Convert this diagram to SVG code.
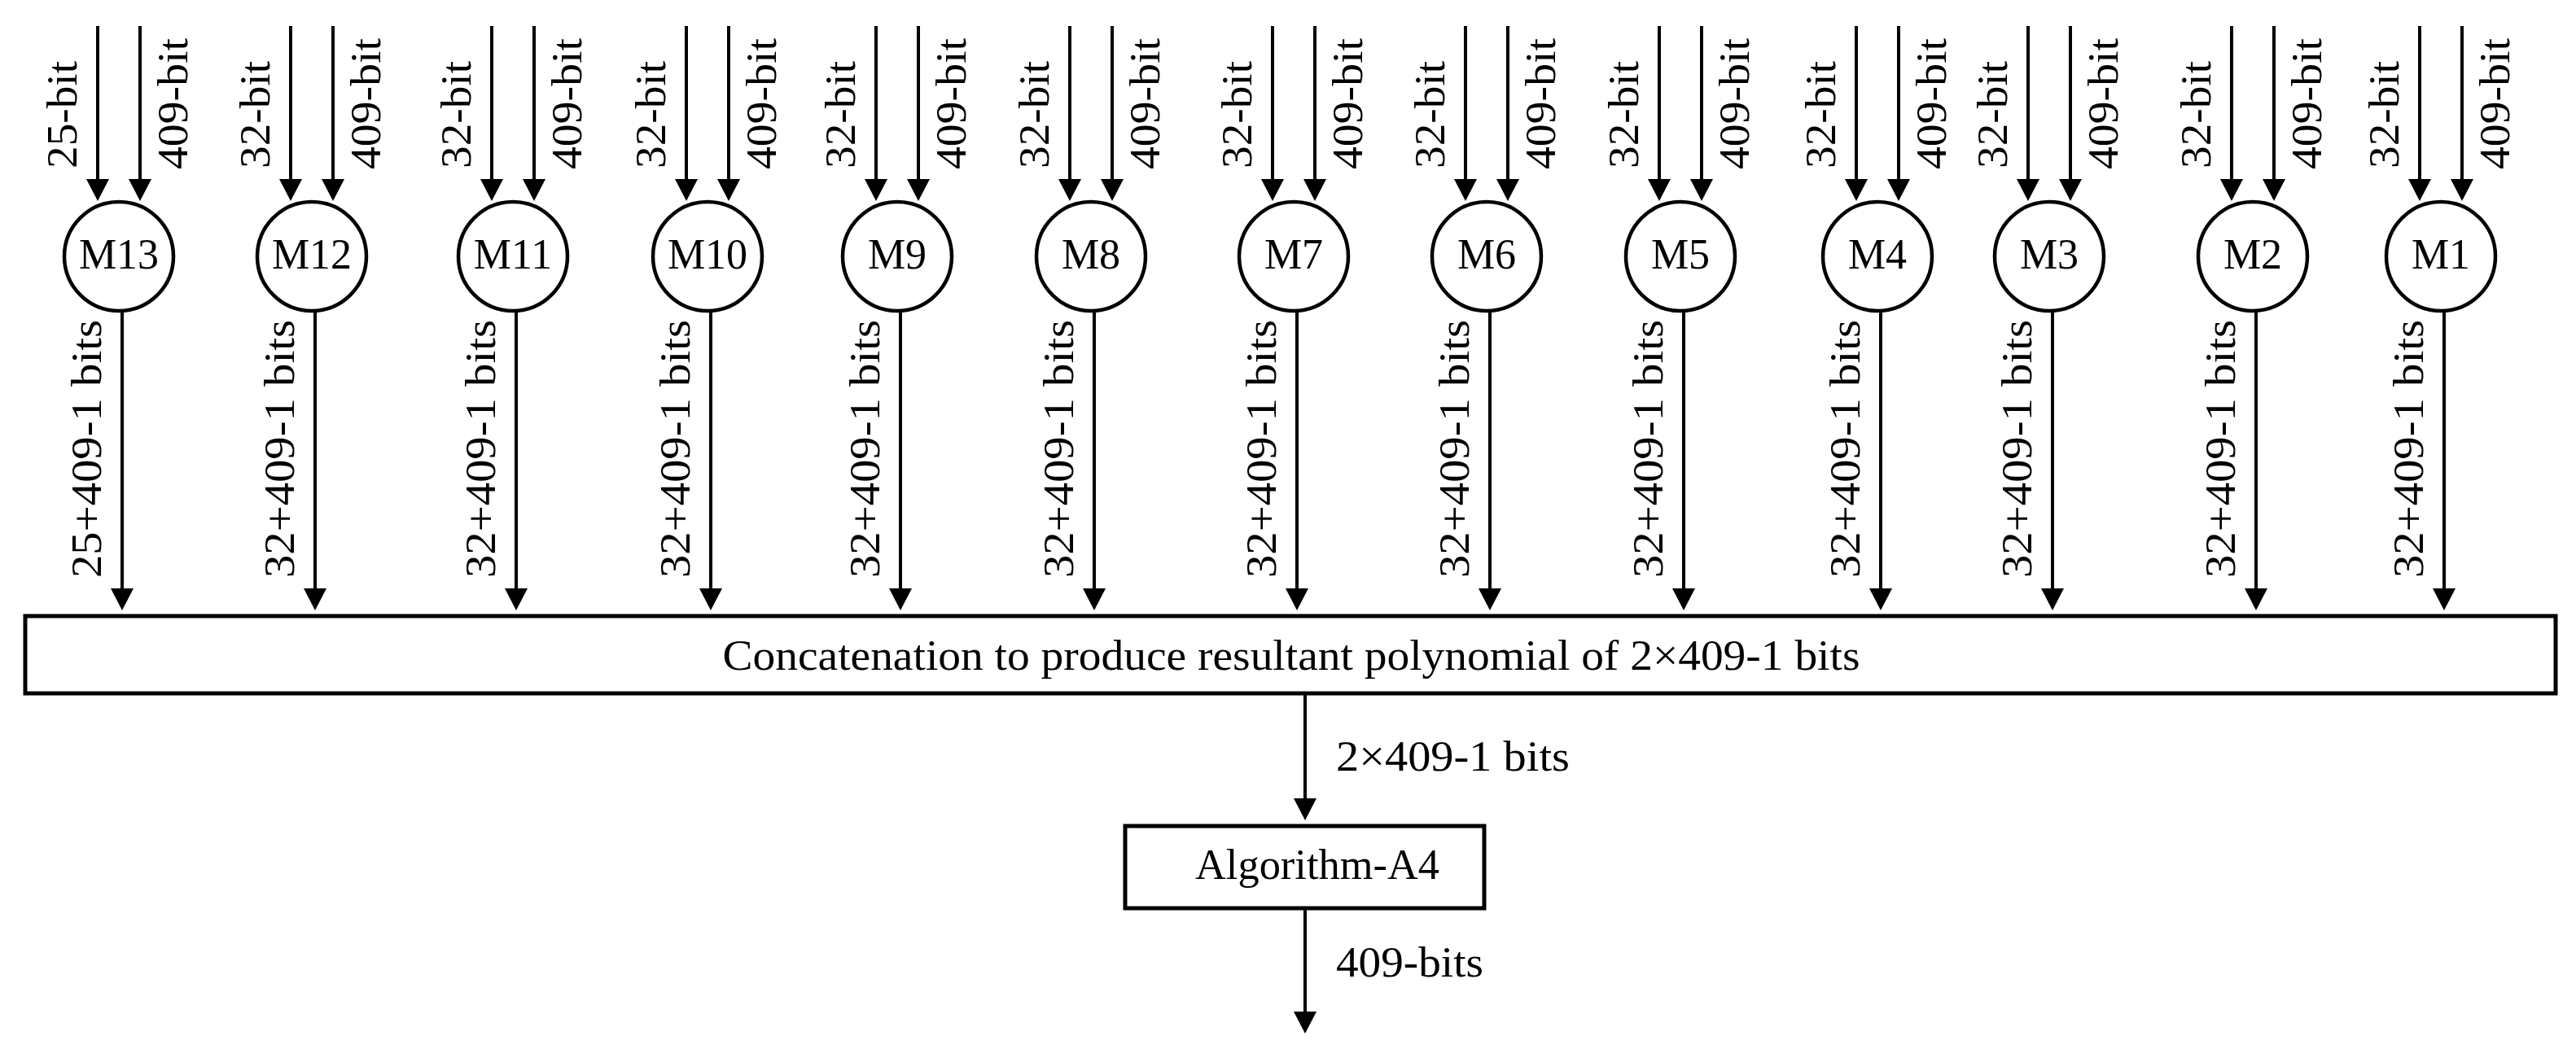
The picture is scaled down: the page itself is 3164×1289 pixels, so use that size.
<svg xmlns="http://www.w3.org/2000/svg" width="3164" height="1289" viewBox="0 0 3164 1289">
<style>
text{font-family:"Liberation Serif","Times New Roman",serif;font-size:52px;fill:#000}
.m{text-anchor:middle}
.node{fill:#fff;stroke:#000;stroke-width:4.5}
.box{fill:#fff;stroke:#000;stroke-width:5}
.ln{stroke:#000;stroke-width:4;fill:none;marker-end:url(#ah)}
</style>
<defs>
<marker id="ah" markerUnits="userSpaceOnUse" markerWidth="30" markerHeight="30" refX="2" refY="14" orient="auto">
<path d="M0,0 L27,14 L0,28 z" fill="#000"/>
</marker>
</defs>
<rect width="3164" height="1289" fill="#fff"/>

<g id="connectors">
<!-- M13 c=146 -->
<line class="ln" x1="120" y1="32" x2="120" y2="222"/><line class="ln" x1="172" y1="32" x2="172" y2="222"/><line class="ln" x1="150" y1="383" x2="150" y2="725"/>
<text transform="translate(94,207) rotate(-90)" textLength="132" lengthAdjust="spacingAndGlyphs">25-bit</text>
<text transform="translate(230,208) rotate(-90)" textLength="161" lengthAdjust="spacingAndGlyphs">409-bit</text>
<text transform="translate(124,710) rotate(-90)" textLength="317" lengthAdjust="spacingAndGlyphs">25+409-1 bits</text>
<!-- M12 c=383 -->
<line class="ln" x1="357" y1="32" x2="357" y2="222"/><line class="ln" x1="409" y1="32" x2="409" y2="222"/><line class="ln" x1="387" y1="383" x2="387" y2="725"/>
<text transform="translate(331,207) rotate(-90)" textLength="132" lengthAdjust="spacingAndGlyphs">32-bit</text>
<text transform="translate(467,208) rotate(-90)" textLength="161" lengthAdjust="spacingAndGlyphs">409-bit</text>
<text transform="translate(361,710) rotate(-90)" textLength="317" lengthAdjust="spacingAndGlyphs">32+409-1 bits</text>
<!-- M11 c=630 -->
<line class="ln" x1="604" y1="32" x2="604" y2="222"/><line class="ln" x1="656" y1="32" x2="656" y2="222"/><line class="ln" x1="634" y1="383" x2="634" y2="725"/>
<text transform="translate(578,207) rotate(-90)" textLength="132" lengthAdjust="spacingAndGlyphs">32-bit</text>
<text transform="translate(714,208) rotate(-90)" textLength="161" lengthAdjust="spacingAndGlyphs">409-bit</text>
<text transform="translate(608,710) rotate(-90)" textLength="317" lengthAdjust="spacingAndGlyphs">32+409-1 bits</text>
<!-- M10 c=869 -->
<line class="ln" x1="843" y1="32" x2="843" y2="222"/><line class="ln" x1="895" y1="32" x2="895" y2="222"/><line class="ln" x1="873" y1="383" x2="873" y2="725"/>
<text transform="translate(817,207) rotate(-90)" textLength="132" lengthAdjust="spacingAndGlyphs">32-bit</text>
<text transform="translate(953,208) rotate(-90)" textLength="161" lengthAdjust="spacingAndGlyphs">409-bit</text>
<text transform="translate(847,710) rotate(-90)" textLength="317" lengthAdjust="spacingAndGlyphs">32+409-1 bits</text>
<!-- M9 c=1102 -->
<line class="ln" x1="1076" y1="32" x2="1076" y2="222"/><line class="ln" x1="1128" y1="32" x2="1128" y2="222"/><line class="ln" x1="1106" y1="383" x2="1106" y2="725"/>
<text transform="translate(1050,207) rotate(-90)" textLength="132" lengthAdjust="spacingAndGlyphs">32-bit</text>
<text transform="translate(1186,208) rotate(-90)" textLength="161" lengthAdjust="spacingAndGlyphs">409-bit</text>
<text transform="translate(1080,710) rotate(-90)" textLength="317" lengthAdjust="spacingAndGlyphs">32+409-1 bits</text>
<!-- M8 c=1340 -->
<line class="ln" x1="1314" y1="32" x2="1314" y2="222"/><line class="ln" x1="1366" y1="32" x2="1366" y2="222"/><line class="ln" x1="1344" y1="383" x2="1344" y2="725"/>
<text transform="translate(1288,207) rotate(-90)" textLength="132" lengthAdjust="spacingAndGlyphs">32-bit</text>
<text transform="translate(1424,208) rotate(-90)" textLength="161" lengthAdjust="spacingAndGlyphs">409-bit</text>
<text transform="translate(1318,710) rotate(-90)" textLength="317" lengthAdjust="spacingAndGlyphs">32+409-1 bits</text>
<!-- M7 c=1589 -->
<line class="ln" x1="1563" y1="32" x2="1563" y2="222"/><line class="ln" x1="1615" y1="32" x2="1615" y2="222"/><line class="ln" x1="1593" y1="383" x2="1593" y2="725"/>
<text transform="translate(1537,207) rotate(-90)" textLength="132" lengthAdjust="spacingAndGlyphs">32-bit</text>
<text transform="translate(1673,208) rotate(-90)" textLength="161" lengthAdjust="spacingAndGlyphs">409-bit</text>
<text transform="translate(1567,710) rotate(-90)" textLength="317" lengthAdjust="spacingAndGlyphs">32+409-1 bits</text>
<!-- M6 c=1826 -->
<line class="ln" x1="1800" y1="32" x2="1800" y2="222"/><line class="ln" x1="1852" y1="32" x2="1852" y2="222"/><line class="ln" x1="1830" y1="383" x2="1830" y2="725"/>
<text transform="translate(1774,207) rotate(-90)" textLength="132" lengthAdjust="spacingAndGlyphs">32-bit</text>
<text transform="translate(1910,208) rotate(-90)" textLength="161" lengthAdjust="spacingAndGlyphs">409-bit</text>
<text transform="translate(1804,710) rotate(-90)" textLength="317" lengthAdjust="spacingAndGlyphs">32+409-1 bits</text>
<!-- M5 c=2064 -->
<line class="ln" x1="2038" y1="32" x2="2038" y2="222"/><line class="ln" x1="2090" y1="32" x2="2090" y2="222"/><line class="ln" x1="2068" y1="383" x2="2068" y2="725"/>
<text transform="translate(2012,207) rotate(-90)" textLength="132" lengthAdjust="spacingAndGlyphs">32-bit</text>
<text transform="translate(2148,208) rotate(-90)" textLength="161" lengthAdjust="spacingAndGlyphs">409-bit</text>
<text transform="translate(2042,710) rotate(-90)" textLength="317" lengthAdjust="spacingAndGlyphs">32+409-1 bits</text>
<!-- M4 c=2306 -->
<line class="ln" x1="2280" y1="32" x2="2280" y2="222"/><line class="ln" x1="2332" y1="32" x2="2332" y2="222"/><line class="ln" x1="2310" y1="383" x2="2310" y2="725"/>
<text transform="translate(2254,207) rotate(-90)" textLength="132" lengthAdjust="spacingAndGlyphs">32-bit</text>
<text transform="translate(2390,208) rotate(-90)" textLength="161" lengthAdjust="spacingAndGlyphs">409-bit</text>
<text transform="translate(2284,710) rotate(-90)" textLength="317" lengthAdjust="spacingAndGlyphs">32+409-1 bits</text>
<!-- M3 c=2517 -->
<line class="ln" x1="2491" y1="32" x2="2491" y2="222"/><line class="ln" x1="2543" y1="32" x2="2543" y2="222"/><line class="ln" x1="2521" y1="383" x2="2521" y2="725"/>
<text transform="translate(2465,207) rotate(-90)" textLength="132" lengthAdjust="spacingAndGlyphs">32-bit</text>
<text transform="translate(2601,208) rotate(-90)" textLength="161" lengthAdjust="spacingAndGlyphs">409-bit</text>
<text transform="translate(2495,710) rotate(-90)" textLength="317" lengthAdjust="spacingAndGlyphs">32+409-1 bits</text>
<!-- M2 c=2767 -->
<line class="ln" x1="2741" y1="32" x2="2741" y2="222"/><line class="ln" x1="2793" y1="32" x2="2793" y2="222"/><line class="ln" x1="2771" y1="383" x2="2771" y2="725"/>
<text transform="translate(2715,207) rotate(-90)" textLength="132" lengthAdjust="spacingAndGlyphs">32-bit</text>
<text transform="translate(2851,208) rotate(-90)" textLength="161" lengthAdjust="spacingAndGlyphs">409-bit</text>
<text transform="translate(2745,710) rotate(-90)" textLength="317" lengthAdjust="spacingAndGlyphs">32+409-1 bits</text>
<!-- M1 c=2998 -->
<line class="ln" x1="2972" y1="32" x2="2972" y2="222"/><line class="ln" x1="3024" y1="32" x2="3024" y2="222"/><line class="ln" x1="3002" y1="383" x2="3002" y2="725"/>
<text transform="translate(2946,207) rotate(-90)" textLength="132" lengthAdjust="spacingAndGlyphs">32-bit</text>
<text transform="translate(3082,208) rotate(-90)" textLength="161" lengthAdjust="spacingAndGlyphs">409-bit</text>
<text transform="translate(2976,710) rotate(-90)" textLength="317" lengthAdjust="spacingAndGlyphs">32+409-1 bits</text>
<!-- lower chain -->
<line class="ln" x1="1603" y1="852" x2="1603" y2="983"/>
<text x="1641" y="947" textLength="287" lengthAdjust="spacingAndGlyphs">2×409-1 bits</text>
<line class="ln" x1="1603" y1="1116" x2="1603" y2="1245"/>
<text x="1641" y="1200" textLength="181" lengthAdjust="spacingAndGlyphs">409-bits</text>
</g>

<g id="M13"><circle class="node" cx="146" cy="315" r="67"/><text class="m" x="146" y="330">M13</text></g>
<g id="M12"><circle class="node" cx="383" cy="315" r="67"/><text class="m" x="383" y="330">M12</text></g>
<g id="M11"><circle class="node" cx="630" cy="315" r="67"/><text class="m" x="630" y="330">M11</text></g>
<g id="M10"><circle class="node" cx="869" cy="315" r="67"/><text class="m" x="869" y="330">M10</text></g>
<g id="M9"><circle class="node" cx="1102" cy="315" r="67"/><text class="m" x="1102" y="330">M9</text></g>
<g id="M8"><circle class="node" cx="1340" cy="315" r="67"/><text class="m" x="1340" y="330">M8</text></g>
<g id="M7"><circle class="node" cx="1589" cy="315" r="67"/><text class="m" x="1589" y="330">M7</text></g>
<g id="M6"><circle class="node" cx="1826" cy="315" r="67"/><text class="m" x="1826" y="330">M6</text></g>
<g id="M5"><circle class="node" cx="2064" cy="315" r="67"/><text class="m" x="2064" y="330">M5</text></g>
<g id="M4"><circle class="node" cx="2306" cy="315" r="67"/><text class="m" x="2306" y="330">M4</text></g>
<g id="M3"><circle class="node" cx="2517" cy="315" r="67"/><text class="m" x="2517" y="330">M3</text></g>
<g id="M2"><circle class="node" cx="2767" cy="315" r="67"/><text class="m" x="2767" y="330">M2</text></g>
<g id="M1"><circle class="node" cx="2998" cy="315" r="67"/><text class="m" x="2998" y="330">M1</text></g>

<g id="concat"><rect class="box" x="31" y="757" width="3108" height="95"/><text class="m" x="1586" y="823" textLength="1397" lengthAdjust="spacingAndGlyphs">Concatenation to produce resultant polynomial of 2×409-1 bits</text></g>
<g id="algA4"><rect class="box" x="1382" y="1015" width="441" height="101"/><text x="1468" y="1080" textLength="300" lengthAdjust="spacingAndGlyphs">Algorithm-A4</text></g>
</svg>
